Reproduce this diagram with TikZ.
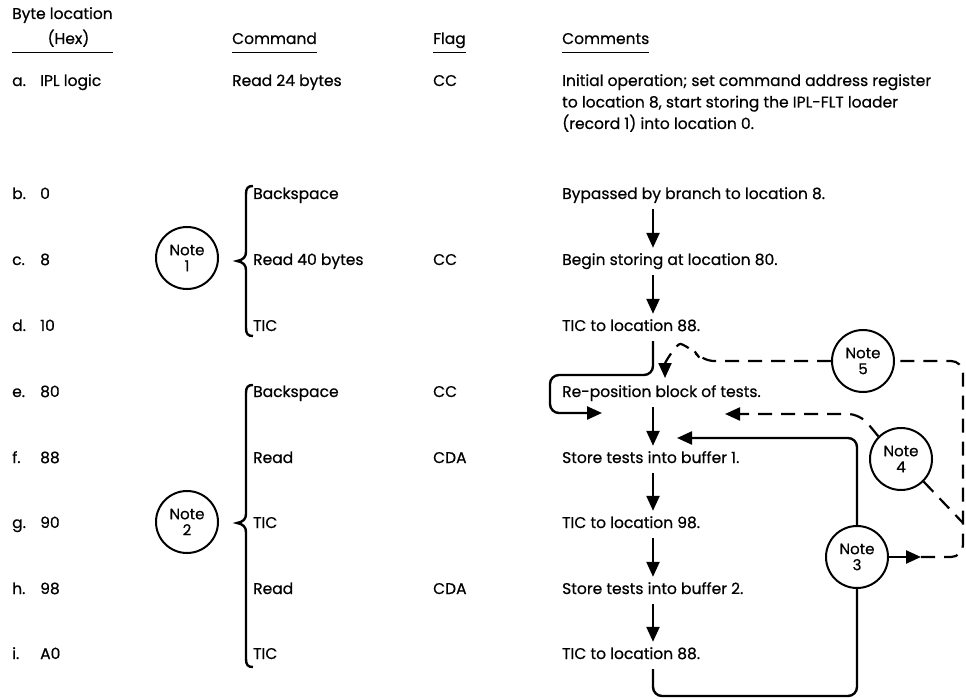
\documentclass[tikz,border=0pt]{standalone}
\usepackage{fontspec}
\setmainfont{Poppins}[RawFeature={embolden=0.6}]
\usetikzlibrary{arrows.meta}

\begin{document}
\begin{tikzpicture}[x=1pt, y=-1pt,
  every node/.style={font=\fontsize{15.5}{21.5}\selectfont, inner sep=0pt, anchor=west},
  row/.style={text height=11pt, text depth=3pt},
  note/.style={draw, circle, line width=2pt, minimum size=62pt, align=center, anchor=center,
    font=\fontsize{15}{16}\selectfont},
  flow/.style={line width=2.4pt, rounded corners=9pt, -{Triangle[length=15pt,width=13pt]}},
  flowline/.style={line width=2.4pt, rounded corners=9pt},
  dashflow/.style={line width=2.2pt, dash pattern=on 14pt off 9pt, rounded corners=12pt},
  bracket/.style={line width=2.4pt},
  rule/.style={line width=1.3pt},
]

\useasboundingbox (0,0) rectangle (966,700);

% header
\node[row] (hbyte) at (12,15) {Byte location};
\node[row,anchor=center] (hhex) at ([xshift=6pt]hbyte.center |- 0,40) {(Hex)};
\node[row] (hcmd) at (232,40) {Command};
\node[row] (hflag) at (433,40) {Flag};
\node[row] (hcom) at (562,40) {Comments};
\draw[rule] ([yshift=-5pt]hbyte.west |- hhex.south) -- ([yshift=-5pt]hbyte.east |- hhex.south);
\draw[rule] ([yshift=-5pt]hcmd.south west) -- ([yshift=-5pt]hcmd.south east);
\draw[rule] ([yshift=-5pt]hflag.south west) -- ([yshift=-5pt]hflag.south east);
\draw[rule] ([yshift=-5pt]hcom.south west) -- ([yshift=-5pt]hcom.south east);

% byte locations
\node[row] (la) at (12,82) {a.};  \node[row] (va) at (40,82) {IPL logic};
\node[row] (lb) at (12,195) {b.}; \node[row] (vb) at (40,195) {0};
\node[row] (lc) at (12,261) {c.}; \node[row] (vc) at (40,261) {8};
\node[row] (ld) at (12,327) {d.}; \node[row] (vd) at (40,327) {10};
\node[row] (le) at (12,393) {e.}; \node[row] (ve) at (40,393) {80};
\node[row] (lf) at (12,459) {f.}; \node[row] (vf) at (40,459) {88};
\node[row] (lg) at (12,524) {g.}; \node[row] (vg) at (40,524) {90};
\node[row] (lh) at (12,590) {h.}; \node[row] (vh) at (40,590) {98};
\node[row] (li) at (12,655) {i.}; \node[row] (vi) at (40,655) {A0};

% commands and flags
\node[row] (ca) at (232,82) {Read 24 bytes};  \node[row] (fa) at (433,82) {CC};
\node[row] (cb) at (253,195) {Backspace};
\node[row] (cc) at (253,261) {Read 40 bytes}; \node[row] (fc) at (433,261) {CC};
\node[row] (cd) at (253,327) {TIC};
\node[row] (ce) at (253,393) {Backspace};     \node[row] (fe) at (433,393) {CC};
\node[row] (cf) at (253,459) {Read};          \node[row] (ff) at (433,459) {CDA};
\node[row] (cg) at (253,524) {TIC};
\node[row] (ch) at (253,590) {Read};          \node[row] (fh) at (433,590) {CDA};
\node[row] (ci) at (253,655) {TIC};

% braces and notes
\draw[bracket] (253,186) .. controls (248,186) and (246,188) .. (246,194) -- (246,252)
  .. controls (246,257) and (243,260) .. (237,261) .. controls (243,262) and (246,265) .. (246,270)
  -- (246,328) .. controls (246,334) and (248,336) .. (253,336);
\draw[bracket] (253,385) .. controls (248,385) and (246,387) .. (246,393) -- (246,514)
  .. controls (246,519) and (243,522) .. (237,523) .. controls (243,524) and (246,527) .. (246,532)
  -- (246,659) .. controls (246,665) and (248,667) .. (253,667);
\node[note] (n1) at (187,258) {Note\\1};
\node[note] (n2) at (187,522) {Note\\2};

% comments
\node[align=left, anchor=north west] (ma) at (562,74) {Initial operation; set command address register\\
  to location 8, start storing the IPL-FLT loader\\(record 1) into location 0.};
\node[row] (mb) at (562,195) {Bypassed by branch to location 8.};
\node[row] (mc) at (562,261) {Begin storing at location 80.};
\node[row] (md) at (562,327) {TIC to location 88.};
\node[row] (me) at (562,393) {Re-position block of tests.};
\node[row] (mf) at (562,459) {Store tests into buffer 1.};
\node[row] (mg) at (562,524) {TIC to location 98.};
\node[row] (mh) at (562,590) {Store tests into buffer 2.};
\node[row] (mi) at (562,655) {TIC to location 88.};

\node[note] (n3) at (857,557) {Note\\3};
\node[note] (n4) at (901,459) {Note\\4};
\node[note] (n5) at (863,361) {Note\\5};

\coordinate (ax) at (653,0);
\coordinate (eback) at (602,413);
\coordinate (fback) at (677,438);
\coordinate (etop) at (665,378);
\coordinate (fside) at (725,414);
\coordinate (n3out) at (921,557);

% main flow
\draw[flow] ([yshift=-7pt]mb.south -| ax) -- ([yshift=6pt]mc.north -| ax);
\draw[flow] ([yshift=-7pt]mc.south -| ax) -- ([yshift=6pt]md.north -| ax);
\draw[flow] ([yshift=-7pt]me.south -| ax) -- ([yshift=6pt]mf.north -| ax);
\draw[flow] ([yshift=-7pt]mf.south -| ax) -- ([yshift=6pt]mg.north -| ax);
\draw[flow] ([yshift=-7pt]mg.south -| ax) -- ([yshift=6pt]mh.north -| ax);
\draw[flow] ([yshift=-7pt]mh.south -| ax) -- ([yshift=6pt]mi.north -| ax);

% loops
\draw[flow] ([yshift=-7pt]md.south -| ax) -- (653,375) -- (550,375) -- (550,413) -- (eback);
\draw[flowline] ([yshift=-7pt]mi.south -| ax) -- (653,696) -- (857,696) -- (n3.south);
\draw[flow] (n3.north) -- (857,438) -- (fback);
\draw[line width=2.4pt, -{Triangle[length=15pt,width=13pt]}] (n3.east) -- (n3out);

% dashed paths
\draw[dashflow] (n3out) -- (963,557) -- (963,361) -- (n5.east);
\draw[dashflow, -{Triangle[length=15pt,width=13pt]}] (n5.west) -- (702,361) -- (692,348)
  to[out=160,in=90] (etop);
\draw[dashflow] (n4.south east) -- (963,523);
\draw[dashflow, -{Triangle[length=15pt,width=13pt]}] (n4.north west) -- (860,414) -- (fside);

\end{tikzpicture}
\end{document}
